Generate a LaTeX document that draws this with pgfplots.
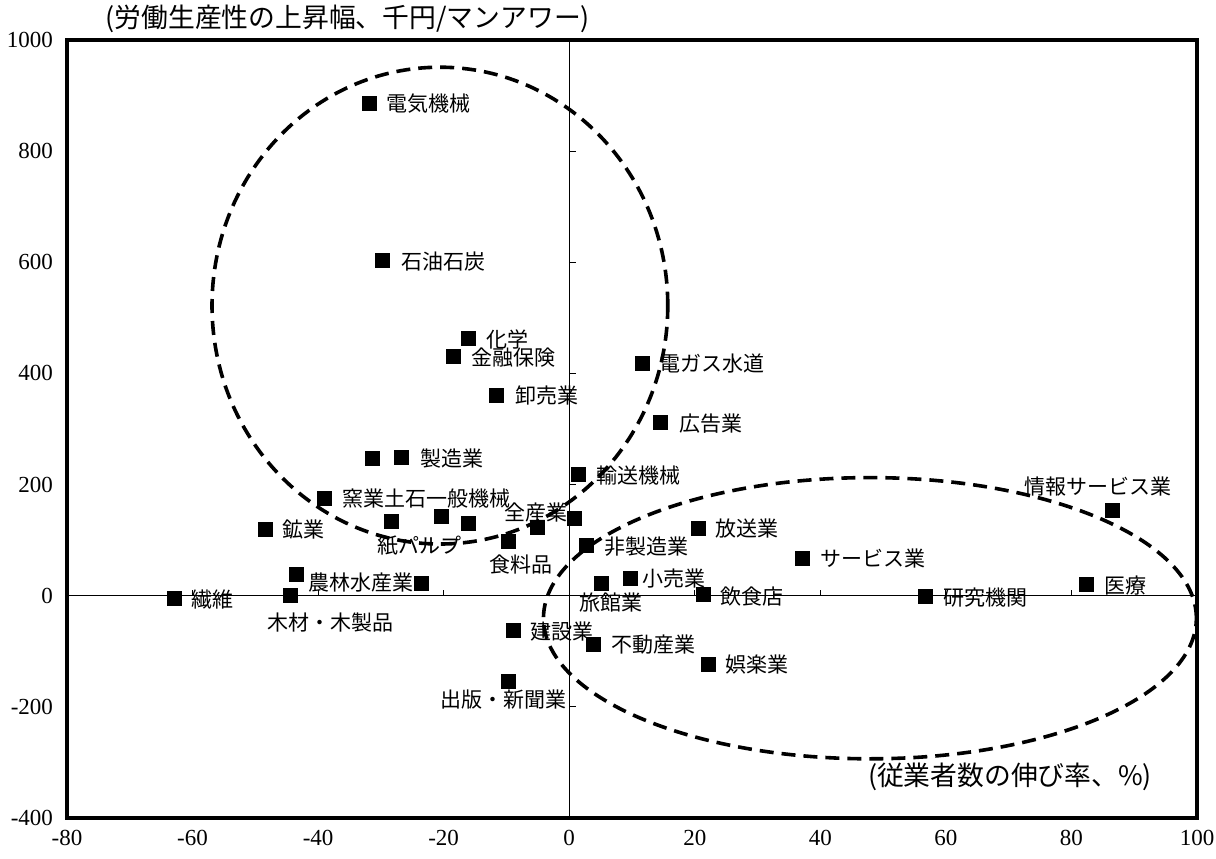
\documentclass[border=0pt]{standalone}
\usepackage{fontspec}
\setmainfont{Liberation Serif}
\newfontfamily\jp{Noto Sans CJK JP}
\usepackage{pgfplots}
\usepackage{pgfplotstable}
\pgfplotsset{compat=1.18}
\tikzset{lab/.style={anchor=west, inner sep=0pt, font=\jp\fontsize{10.5}{12}\selectfont}}

\pgfplotstableread{
x y
-31.9 885
-29.8 603
-16.0 463
-18.4 430
-11.6 360
-31.4 247
-26.8 249
-39.0 175
-48.4 119
-28.4 133
-20.3 142
-16.0 130
-5.1 123
0.8 139
-9.7 97
2.7 90
1.4 218
11.6 418
14.6 312
20.5 121
37.1 67
9.8 31
5.1 22
21.4 3
-8.9 -63
3.8 -87
22.2 -124
-9.7 -155
-43.5 38
-23.5 22
-44.4 0
-62.9 -5
56.7 -2
82.4 20
86.5 153
}\pts

\begin{document}
\begin{tikzpicture}
\begin{axis}[
  scale only axis, width=565pt, height=389pt,
  xmin=-80, xmax=100, ymin=-400, ymax=1000,
  xtick={-80,-60,-40,-20,0,20,40,60,80,100},
  ytick={-400,-200,0,200,400,600,800,1000},
  major tick length=0pt,
  axis line style={line width=1.6pt},
  clip=false,
  tick label style={font=\fontsize{11.5}{13}\selectfont},
  /pgf/number format/assume math mode=true,
  /pgf/number format/1000 sep={},
  yticklabel style={xshift=-3.5pt},
  xticklabel style={yshift=-2.5pt},
]
\draw[line width=0.6pt] (axis cs:-80,0) -- (axis cs:100,0);
\draw[line width=0.6pt] (axis cs:0,-400) -- (axis cs:0,1000);
\pgfplotsinvokeforeach{-60,-40,-20,20,40,60,80}{\draw[line width=0.6pt] (axis cs:#1,0) -- ++(0pt,3pt);}
\pgfplotsinvokeforeach{-200,200,400,600,800}{\draw[line width=0.6pt] (axis cs:0,#1) -- ++(3.5pt,0pt);}

\draw[line width=1.8pt, dash pattern=on 7pt off 4pt] (axis cs:-20.6,522) ellipse [x radius=36.3, y radius=429];
\draw[line width=1.8pt, dash pattern=on 7pt off 4pt] (axis cs:47.9,-40.5) ellipse [x radius=52, y radius=253];

\addplot[only marks, mark=square*, mark size=3.5pt, black] table {\pts};

\node[lab] at (axis cs:-29.2,885) {電気機械};
\node[lab] at (axis cs:-26.8,602) {石油石炭};
\node[lab] at (axis cs:-13.2,461) {化学};
\node[lab] at (axis cs:-15.6,429) {金融保険};
\node[lab] at (axis cs:-8.6,360) {卸売業};
\node[lab] at (axis cs:-23.8,247) {製造業};
\node[lab] at (axis cs:-36.2,175) {窯業土石一般機械};
\node[lab] at (axis cs:-45.7,119) {鉱業};
\node[lab] at (axis cs:-30.6,90) {紙パルプ};
\node[lab] at (axis cs:-10.3,150) {全産業};
\node[lab] at (axis cs:-12.7,56) {食料品};
\node[lab] at (axis cs:-41.6,23) {農林水産業};
\node[lab] at (axis cs:-60.3,-7) {繊維};
\node[lab] at (axis cs:-48.1,-49) {木材・木製品};
\node[lab] at (axis cs:-6.2,-65) {建設業};
\node[lab] at (axis cs:-20.6,-187) {出版・新聞業};
\node[lab] at (axis cs:6.7,-88) {不動産業};
\node[lab] at (axis cs:4.3,216) {輸送機械};
\node[lab] at (axis cs:14.3,418) {電ガス水道};
\node[lab] at (axis cs:17.5,310) {広告業};
\node[lab] at (axis cs:23.2,121) {放送業};
\node[lab] at (axis cs:5.6,88) {非製造業};
\node[lab] at (axis cs:11.6,31) {小売業};
\node[lab] at (axis cs:1.6,-13) {旅館業};
\node[lab] at (axis cs:24.1,-2) {飲食店};
\node[lab] at (axis cs:24.9,-124) {娯楽業};
\node[lab] at (axis cs:40,67) {サービス業};
\node[lab] at (axis cs:59.5,-4) {研究機関};
\node[lab] at (axis cs:85.2,18) {医療};
\node[lab] at (axis cs:72.5,196) {情報サービス業};

\node[anchor=west, inner sep=0pt, font=\jp\fontsize{13.4}{15}\selectfont] at (axis cs:-73.9,1038) {(労働生産性の上昇幅、千円/マンアワー)};
\node[anchor=east, inner sep=0pt, font=\jp\fontsize{13.4}{15}\selectfont] at (axis cs:92.9,-326) {(従業者数の伸び率、\%)};
\end{axis}
\pgfresetboundingbox
\path ([xshift=-33.5pt,yshift=-20.5pt]current axis.south west) rectangle ([xshift=9.5pt,yshift=20pt]current axis.north east);
\end{tikzpicture}
\end{document}
